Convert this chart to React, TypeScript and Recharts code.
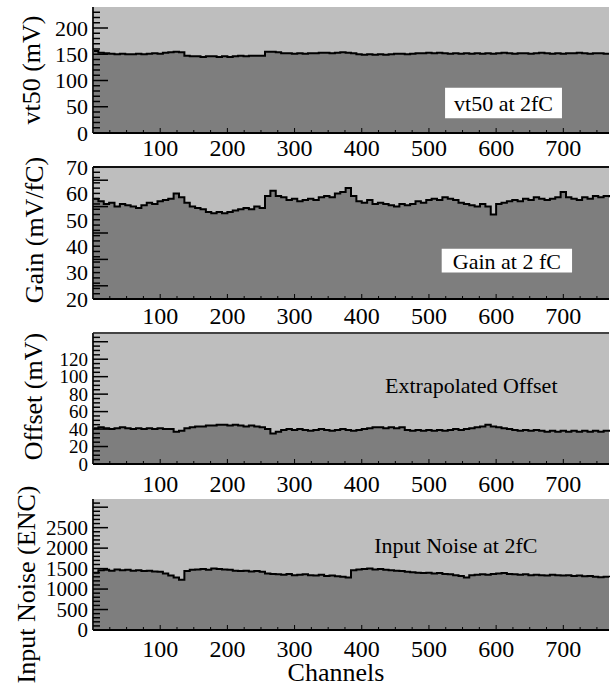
import React from "react";
import { AreaChart, Area, XAxis, YAxis, CartesianGrid, ReferenceArea, ReferenceLine, Label } from "recharts";

// channel numbers (every 8th channel of 768)
const channels = [
  0, 8, 16, 24, 32, 40, 48, 56, 64, 72, 80, 88, 96, 104, 112, 120, 128, 136, 144, 152, 160, 168, 176, 184,
  192, 200, 208, 216, 224, 232, 240, 248, 256, 264, 272, 280, 288, 296, 304, 312, 320, 328, 336, 344, 352,
  360, 368, 376, 384, 392, 400, 408, 416, 424, 432, 440, 448, 456, 464, 472, 480, 488, 496, 504, 512, 520,
  528, 536, 544, 552, 560, 568, 576, 584, 592, 600, 608, 616, 624, 632, 640, 648, 656, 664, 672, 680, 688,
  696, 704, 712, 720, 728, 736, 744, 752, 760, 768,
];

// vt50 at 2fC (mV)
const vt50 = [
  156, 153, 152, 151, 150, 151, 150, 150, 151, 150, 151, 152, 151, 153, 154, 155, 154, 147, 146, 146, 145,
  146, 146, 145, 146, 145, 146, 147, 146, 147, 147, 147, 155, 155, 154, 152, 152, 151, 152, 151, 152, 152,
  153, 153, 152, 153, 154, 153, 152, 150, 149, 150, 149, 150, 149, 150, 151, 151, 150, 151, 152, 152, 153,
  152, 153, 152, 151, 152, 151, 152, 151, 152, 151, 152, 151, 152, 153, 152, 151, 152, 152, 151, 152, 153,
  152, 151, 152, 151, 152, 152, 153, 152, 151, 152, 152, 151, 151,
];

// gain at 2 fC (mV/fC)
const gain = [
  58, 57, 56, 56.5, 55, 56, 55.5, 55, 54.5, 55.5, 56.5, 56, 57, 57.5, 58, 60, 58.5, 56.5, 55, 54.5, 54, 53,
  52.5, 53, 52.5, 53, 53.5, 54, 54.5, 54, 55, 54.5, 59, 61, 59, 58.5, 57.5, 58, 57, 57.5, 58, 57.5, 58.5, 59,
  58.5, 60, 60.5, 62, 59, 57, 56.5, 57.5, 56, 56.5, 56, 55.5, 55, 56, 55.5, 56, 57, 56.5, 57.5, 58, 57.5,
  58.5, 58, 57.5, 56.5, 56, 55.5, 55, 56, 55, 52, 56, 56.5, 57, 57.5, 57, 58, 57.5, 58.5, 58, 57.5, 58, 58.5,
  60.5, 58.5, 58, 57.5, 58.5, 58, 59, 58.5, 59, 58.5,
];

// extrapolated offset (mV)
const offset = [
  41, 42, 41, 40, 41, 42, 41, 40, 41, 40, 41, 40, 41, 40, 40, 37, 38, 41, 42, 43, 43, 44, 44, 45, 45, 44, 45,
  44, 43, 44, 43, 42, 40, 35, 37, 39, 40, 39, 40, 39, 38, 39, 40, 39, 38, 39, 40, 39, 38, 39, 40, 41, 42, 42,
  41, 42, 41, 42, 39, 38, 39, 38, 39, 38, 39, 38, 39, 40, 39, 40, 41, 42, 43, 45, 43, 42, 41, 40, 39, 38, 39,
  38, 39, 38, 37, 38, 37, 38, 37, 38, 37, 38, 37, 38, 37, 38, 37,
];

// input noise at 2fC (ENC)
const noise = [
  1400, 1460, 1470, 1450, 1480, 1460, 1470, 1450, 1460, 1440, 1450, 1430, 1420, 1380, 1330, 1280, 1230, 1440,
  1470, 1480, 1490, 1470, 1500, 1490, 1480, 1470, 1450, 1440, 1450, 1430, 1440, 1420, 1380, 1370, 1360, 1350,
  1370, 1340, 1350, 1360, 1340, 1330, 1350, 1320, 1330, 1310, 1300, 1280, 1460, 1480, 1490, 1500, 1480, 1490,
  1470, 1460, 1450, 1440, 1420, 1410, 1400, 1390, 1400, 1380, 1390, 1370, 1360, 1340, 1320, 1280, 1340, 1350,
  1360, 1350, 1370, 1380, 1390, 1370, 1360, 1350, 1360, 1340, 1350, 1340, 1330, 1350, 1340, 1330, 1340, 1320,
  1330, 1310, 1320, 1300, 1290, 1300, 1290,
];

const channelTicks = [
  25, 50, 75, 100, 125, 150, 175, 200, 225, 250, 275, 300, 325, 350, 375, 400, 425, 450, 475, 500, 525, 550,
  575, 600, 625, 650, 675, 700, 725, 750,
];

const vt50Ticks = [0, 10, 20, 30, 40, 50, 60, 70, 80, 90, 100, 110, 120, 130, 140, 150, 160, 170, 180, 190, 200, 210, 220, 230];
const vt50Major = [50, 100, 150, 200];
const vt50Labels = [0, 50, 100, 150, 200];

const gainTicks = [20, 22, 24, 25, 26, 28, 30, 32, 34, 35, 36, 38, 40, 42, 44, 45, 46, 48, 50, 52, 54, 55, 56, 58, 60, 62, 64, 65, 66, 68, 70];
const gainMajor = [25, 35, 45, 55, 65];
const gainLabels = [20, 30, 40, 50, 60, 70];

const offsetTicks = [0, 5, 10, 15, 20, 25, 30, 35, 40, 45, 50, 55, 60, 65, 70, 75, 80, 85, 90, 95, 100, 105, 110, 115, 120, 125, 130, 135, 140, 145];
const offsetMajor = [20, 40, 60, 80, 100, 120, 140];
const offsetLabels = [0, 20, 40, 60, 80, 100, 120];

const noiseTicks = [
  0, 100, 200, 300, 400, 500, 600, 700, 800, 900, 1000, 1100, 1200, 1300, 1400, 1500, 1600, 1700, 1800, 1900,
  2000, 2100, 2200, 2300, 2400, 2500, 2600, 2700, 2800, 2900, 3000, 3100,
];
const noiseMajor = [500, 1000, 1500, 2000, 2500, 3000];
const noiseLabels = [0, 500, 1000, 1500, 2000, 2500];

const rows = channels.map((ch, i) => ({
  ch,
  vt50: vt50[i],
  gain: gain[i],
  offset: offset[i],
  noise: noise[i],
}));

const FONT = "'Liberation Serif', 'Times New Roman', serif";
const LIGHT = "#bebebe";
const DARK = "#7e7e7e";
const INK = "#000";
const Y_GAP = 5;

function XTick(props: any) {
  const { x, y, payload, gap } = props;
  const axisY = y - gap;
  const major = payload.value % 100 === 0;
  return (
    <g>
      <line x1={x} x2={x} y1={axisY} y2={axisY - (major ? 5 : 3)} stroke={INK} strokeWidth={1} />
      {major && (
        <text x={x} y={y} textAnchor="middle" fontSize={24} fontFamily={FONT} fill={INK}>
          {payload.value}
        </text>
      )}
    </g>
  );
}

function YTick(props: any) {
  const { x, y, payload, major, labels, size } = props;
  const edge = x + Y_GAP;
  const v = payload.value;
  const len = major.includes(v) ? 15 : 7;
  return (
    <g>
      <line x1={edge} x2={edge + len} y1={y} y2={y} stroke={INK} strokeWidth={1.5} />
      {labels.includes(v) && (
        <text x={x} y={y} dy="0.35em" textAnchor="end" fontSize={size} fontFamily={FONT} fill={INK}>
          {v}
        </text>
      )}
    </g>
  );
}

type Note = { text: string; x1: number; x2: number; y1: number; y2: number; boxed: boolean };

type PanelProps = {
  dataKey: string;
  domain: [number, number];
  ticks: number[];
  major: number[];
  labels: number[];
  tickSize: number;
  title: string;
  titleX: number;
  titleShift: number;
  chartTop: number;
  chartHeight: number;
  plotTop: number;
  plotBottom: number;
  xGap: number;
  topBorder?: string;
  note: Note;
  xTitle?: string;
};

function Panel(p: PanelProps) {
  const xAxisHeight = p.chartTop + p.chartHeight - p.plotBottom;
  return (
    <div style={{ position: "absolute", left: 0, top: p.chartTop }}>
      <AreaChart
        width={610}
        height={p.chartHeight}
        data={rows}
        margin={{ top: p.plotTop - p.chartTop, right: 1, left: 0, bottom: 0 }}
      >
        <CartesianGrid fill={LIGHT} fillOpacity={1} horizontal={false} vertical={false} />
        <XAxis
          dataKey="ch"
          type="number"
          domain={[0, 768]}
          ticks={channelTicks}
          interval={0}
          height={xAxisHeight}
          tickLine={false}
          tickSize={0}
          tickMargin={p.xGap}
          axisLine={{ stroke: INK, strokeWidth: 2 }}
          tick={(t: any) => <XTick {...t} gap={p.xGap} />}
        >
          {p.xTitle && (
            <Label
              content={(lp: any) => (
                <text x={336} y={lp.viewBox.y + 51} textAnchor="middle" fontSize={26} fontFamily={FONT} fill={INK}>
                  {p.xTitle}
                </text>
              )}
            />
          )}
        </XAxis>
        <YAxis
          type="number"
          domain={p.domain}
          ticks={p.ticks}
          interval={0}
          width={93}
          tickLine={false}
          tickSize={0}
          tickMargin={Y_GAP}
          allowDataOverflow
          axisLine={{ stroke: "#222", strokeWidth: 2 }}
          tick={(t: any) => <YTick {...t} major={p.major} labels={p.labels} size={p.tickSize} />}
        >
          <Label
            content={(lp: any) => {
              const cy = lp.viewBox.y + lp.viewBox.height / 2 + p.titleShift;
              return (
                <text
                  x={p.titleX}
                  y={cy}
                  dy="0.35em"
                  transform={`rotate(-90, ${p.titleX}, ${cy})`}
                  textAnchor="middle"
                  fontSize={26}
                  fontFamily={FONT}
                  fill={INK}
                >
                  {p.title}
                </text>
              );
            }}
          />
        </YAxis>
        <Area
          type="stepAfter"
          dataKey={p.dataKey}
          stroke={INK}
          strokeWidth={2}
          fill={DARK}
          fillOpacity={1}
          dot={false}
          activeDot={false}
          isAnimationActive={false}
        />
        {p.topBorder && <ReferenceLine y={p.domain[1]} stroke={p.topBorder} strokeWidth={2} />}
        <ReferenceArea
          x1={p.note.x1}
          x2={p.note.x2}
          y1={p.note.y1}
          y2={p.note.y2}
          fill="#fff"
          fillOpacity={p.note.boxed ? 1 : 0}
          stroke="none"
          label={{ value: p.note.text, position: "center", fontSize: 22, fontFamily: FONT, fill: INK }}
        />
      </AreaChart>
    </div>
  );
}

export default function App() {
  return (
    <div
      style={{
        position: "absolute",
        left: 0,
        top: 0,
        width: 610,
        height: 688,
        background: "#fff",
        fontFamily: FONT,
      }}
    >
      <Panel
        dataKey="vt50"
        domain={[0, 240]}
        ticks={vt50Ticks}
        major={vt50Major}
        labels={vt50Labels}
        tickSize={22}
        title="vt50 (mV)"
        titleX={31}
        titleShift={0}
        chartTop={0}
        chartHeight={160}
        plotTop={7}
        plotBottom={133}
        xGap={23}
        note={{ text: "vt50 at 2fC", x1: 524, x2: 698, y1: 28, y2: 86, boxed: true }}
      />
      <Panel
        dataKey="gain"
        domain={[20, 70]}
        ticks={gainTicks}
        major={gainMajor}
        labels={gainLabels}
        tickSize={22}
        title="Gain (mV/fC)"
        titleX={34}
        titleShift={-3}
        chartTop={150}
        chartHeight={180}
        plotTop={167}
        plotBottom={299}
        xGap={25}
        topBorder="#111"
        note={{ text: "Gain at 2 fC", x1: 519, x2: 713, y1: 30, y2: 39, boxed: true }}
      />
      <Panel
        dataKey="offset"
        domain={[0, 150]}
        ticks={offsetTicks}
        major={offsetMajor}
        labels={offsetLabels}
        tickSize={19}
        title="Offset (mV)"
        titleX={33}
        titleShift={-2}
        chartTop={318}
        chartHeight={182}
        plotTop={333}
        plotBottom={464}
        xGap={28}
        topBorder="#444"
        note={{ text: "Extrapolated Offset", x1: 480, x2: 646, y1: 82, y2: 99, boxed: false }}
      />
      <Panel
        dataKey="noise"
        domain={[0, 3200]}
        ticks={noiseTicks}
        major={noiseMajor}
        labels={noiseLabels}
        tickSize={21}
        title="Input Noise (ENC)"
        titleX={26}
        titleShift={20}
        chartTop={480}
        chartHeight={208}
        plotTop={499}
        plotBottom={630}
        xGap={27}
        note={{ text: "Input Noise at 2fC", x1: 450, x2: 630, y1: 1900, y2: 2250, boxed: false }}
        xTitle="Channels"
      />
    </div>
  );
}
